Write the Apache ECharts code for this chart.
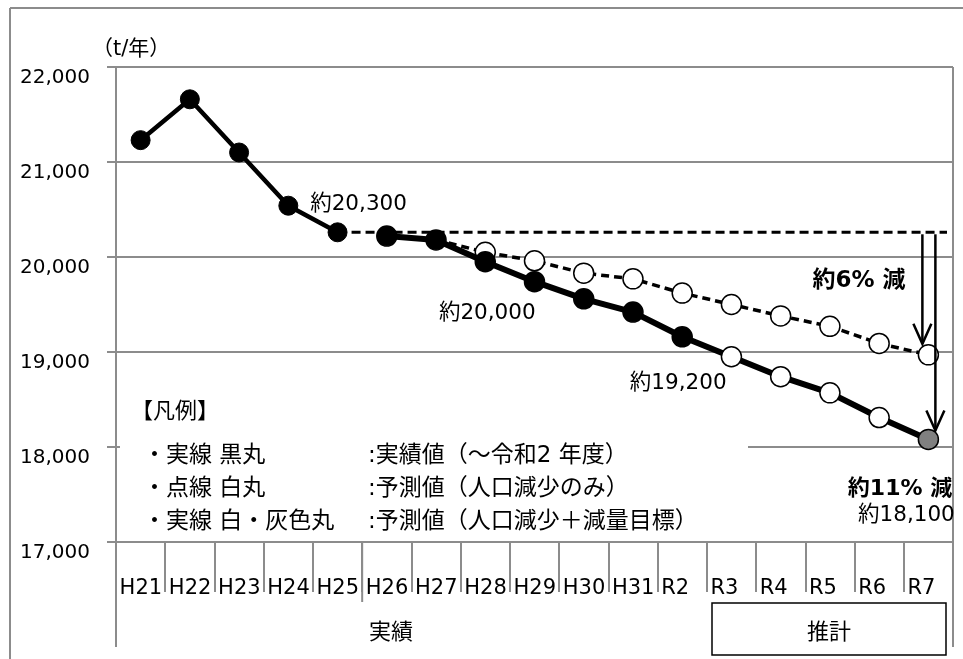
<!DOCTYPE html>
<html>
<head>
<meta charset="utf-8">
<script src="https://cdn.jsdelivr.net/npm/echarts@6/dist/echarts.min.js"></script>
<style>
  html, body { margin: 0; padding: 0; background: #fff; }
  #chart { width: 963px; height: 659px; }
</style>
</head>
<body>
<div id="chart"></div>
<script>
// Fiscal years (Heisei H21–H31, Reiwa R2–R7)
const categories = ['H21', 'H22', 'H23', 'H24', 'H25', 'H26', 'H27', 'H28', 'H29',
                    'H30', 'H31', 'R2', 'R3', 'R4', 'R5', 'R6', 'R7'];

// Early results, H21–H25 (t/year)
const actualEarly = [21230, 21660, 21100, 20540, 20260];
// Results H26–R2 followed by the reduction-target projection R3–R7
const targetPath = [20220, 20180, 19950, 19740, 19560, 19420, 19160,
                    18950, 18740, 18570, 18310, 18080];
// Projection from population decline only, H27–R7
const populationOnly = [20180, 20050, 19960, 19830, 19770, 19620,
                        19500, 19380, 19270, 19090, 18970];
// Marker kind of each targetPath point
const targetKinds = ['black', 'black', 'black', 'black', 'black', 'black', 'black',
                     'white', 'white', 'white', 'white', 'gray'];

// Value axis
const yMin = 17000, yMax = 22000, yStep = 1000;

// Points carrying a value label
const earlyLabelled = ['H25'];
const targetLabelled = ['H28', 'R2', 'R7'];

const FONT = "'DejaVu Sans', 'Noto Sans CJK JP', sans-serif";
const GRAY = '#8c8c8c';

const earlyStart = 0;
const targetStart = categories.indexOf('H26');
const popStart = categories.indexOf('H27');
const baseValue = actualEarly[actualEarly.length - 1];

function comma(v) { return String(v).replace(/\B(?=(\d{3})+(?!\d))/g, ','); }
function approx(v) { return '約' + comma(Math.round(v / 100) * 100); }
function pad(arr, start) {
  const out = new Array(categories.length).fill(null);
  arr.forEach((v, i) => { out[start + i] = v; });
  return out;
}

const labelOffsets = { H25: ['top', [21, -2]], H28: ['bottom', [2, 25]], R2: ['bottom', [-4, 20]], R7: ['bottom', [-22, 50]] };
function labelFor(cat, v) {
  const [pos, off] = labelOffsets[cat];
  return { show: true, position: pos, offset: off, formatter: approx(v),
           fontSize: 21.5, fontFamily: FONT, color: '#000' };
}

const earlyData = pad(actualEarly, earlyStart).map((v, i) => {
  if (v === null) return null;
  const cat = categories[i];
  return earlyLabelled.includes(cat) ? { value: v, label: labelFor(cat, v) } : v;
});

const markerFill = { black: '#000', white: '#fff', gray: '#808080' };
const targetData = pad(targetPath, targetStart).map((v, i) => {
  if (v === null) return null;
  const k = i - targetStart;
  const cat = categories[i];
  const item = { value: v, itemStyle: { color: markerFill[targetKinds[k]], borderColor: '#000', borderWidth: 1.5 } };
  if (targetLabelled.includes(cat)) item.label = labelFor(cat, v);
  return item;
});

const popData = pad(populationOnly, popStart).map((v, i) => {
  if (v === null) return null;
  return i === popStart ? { value: v, symbol: 'none' } : v;
});

const chart = echarts.init(document.getElementById('chart'), null, { renderer: 'canvas' });

const option = {
  animation: false,
  backgroundColor: '#fff',
  grid: { left: 116, right: 10, top: 67, bottom: 117, containLabel: false },
  xAxis: {
    type: 'category',
    data: categories,
    boundaryGap: true,
    axisLine: { show: true, lineStyle: { color: GRAY, width: 2 } },
    axisTick: { show: true, interval: 0, length: 50, lineStyle: { color: GRAY, width: 2 } },
    axisLabel: {
      interval: 0, margin: 36, color: '#000', fontSize: 21, fontFamily: FONT,
      formatter: v => '{a|' + v + '}',
      rich: { a: { width: 42, align: 'left', fontSize: 21, fontFamily: FONT, color: '#000' } }
    },
    splitLine: { show: false }
  },
  yAxis: {
    type: 'value',
    min: yMin, max: yMax, interval: yStep,
    axisLine: { show: true, lineStyle: { color: GRAY, width: 2 } },
    axisTick: { show: true, length: 9, lineStyle: { color: GRAY, width: 2 } },
    axisLabel: { margin: 26, color: '#000', fontSize: 20, fontFamily: FONT,
                 verticalAlign: 'top', lineHeight: 22, formatter: v => comma(v) },
    splitLine: { show: true, lineStyle: { color: GRAY, width: 2 } }
  },
  series: [
    {
      name: '人口減少のみ', type: 'line', data: popData, z: 3,
      symbol: 'circle', symbolSize: 20,
      itemStyle: { color: '#fff', borderColor: '#000', borderWidth: 1.5 },
      lineStyle: { color: '#000', width: 3.5, type: [8, 5] }
    },
    {
      name: '実績（前期）', type: 'line', data: earlyData, z: 4,
      symbol: 'circle', symbolSize: 19,
      itemStyle: { color: '#000', borderColor: '#000', borderWidth: 1 },
      lineStyle: { color: '#000', width: 4.5 }
    },
    {
      name: '実績・減量目標', type: 'line', data: targetData, z: 5,
      symbol: 'circle', symbolSize: 20,
      lineStyle: { color: '#000', width: 6 }
    }
  ]
};
chart.setOption(option);

// Annotations placed from the axes' own pixel mapping
const px = (i, v) => chart.convertToPixel({ gridIndex: 0 }, [i, v]);
const iR7 = categories.indexOf('R7');
const basePt = px(categories.indexOf('H25'), baseValue);
const popEnd = populationOnly[populationOnly.length - 1];
const targetEnd = targetPath[targetPath.length - 1];
const popEndPt = px(iR7, popEnd);
const targetEndPt = px(iR7, targetEnd);
const bottomAxis = px(0, yMin)[1];
const topY = px(0, yMax)[1];
const midTickX = (px(categories.indexOf('H25'), yMin)[0] + px(categories.indexOf('H26'), yMin)[0]) / 2;
const pctPop = Math.round((1 - popEnd / baseValue) * 100);
const pctTarget = Math.round((1 - targetEnd / baseValue) * 100);

function txt(text, x, y, size, opts = {}) {
  return {
    type: 'text', z: 10,
    style: {
      text, x, y, fill: '#000', font: (opts.bold ? 'bold ' : '') + size + 'px ' + FONT,
      align: opts.align || 'left', verticalAlign: 'middle',
      textAlign: opts.align || 'left', textVerticalAlign: 'middle'
    }
  };
}
function seg(x1, y1, x2, y2, stroke, w, z, dash) {
  return { type: 'line', z, shape: { x1, y1, x2, y2 },
           style: { stroke, lineWidth: w, lineDash: dash || null } };
}
function arrow(x, y1, y2) {
  return [
    seg(x, y1, x, y2, '#000', 2.5, 8),
    { type: 'polyline', z: 8, shape: { points: [[x - 9, y2 - 20], [x, y2], [x + 9, y2 - 20]] },
      style: { stroke: '#000', lineWidth: 2.5, fill: null } }
  ];
}

const rightX = 953;
const graphics = [
  // outer frame
  seg(10, 8, 963, 8, GRAY, 2, 1),
  seg(10, 8, 10, 659, GRAY, 2, 1),
  // right border and axis extensions
  seg(rightX, topY, rightX, 647, GRAY, 2, 1),
  seg(116, bottomAxis, 116, 647, GRAY, 2, 1),
  seg(midTickX, bottomAxis, midTickX, 602, GRAY, 2, 1),
  // legend panel
  { type: 'rect', z: 1, shape: { x: 120, y: 392, width: 628, height: 146 }, style: { fill: '#fff' } },
  txt('【凡例】', 131, 412, 22),
  txt('・実線 黒丸', 143, 456, 23),
  txt('・点線 白丸', 143, 489, 23),
  txt('・実線 白・灰色丸', 143, 522, 23),
  txt(':実績値（～令和2 年度）', 368, 456, 23),
  txt(':予測値（人口減少のみ）', 368, 489, 23),
  txt(':予測値（人口減少＋減量目標）', 368, 522, 23),
  // unit
  txt('（t/年）', 92, 50, 21),
  // group labels below the axis
  txt('実績', 391, 633, 22, { align: 'center' }),
  { type: 'rect', z: 1, shape: { x: 712, y: 603, width: 234, height: 52 },
    style: { fill: '#fff', stroke: '#000', lineWidth: 1.5 } },
  txt('推計', 829, 633, 22, { align: 'center' }),
  // baseline from H25 level
  seg(basePt[0], basePt[1], 947, basePt[1], '#000', 3, 2, [9, 5]),
  ...arrow(popEndPt[0] - 6, basePt[1] + 2, popEndPt[1] - 11),
  ...arrow(targetEndPt[0] + 7, basePt[1] + 2, targetEndPt[1] - 9),
  txt('約' + pctPop + '% 減', 859, 281, 23, { bold: true, align: 'center' }),
  txt('約' + pctTarget + '% 減', 900, 489, 22, { bold: true, align: 'center' })
];
chart.setOption({ graphic: { elements: graphics } });
</script>
</body>
</html>
